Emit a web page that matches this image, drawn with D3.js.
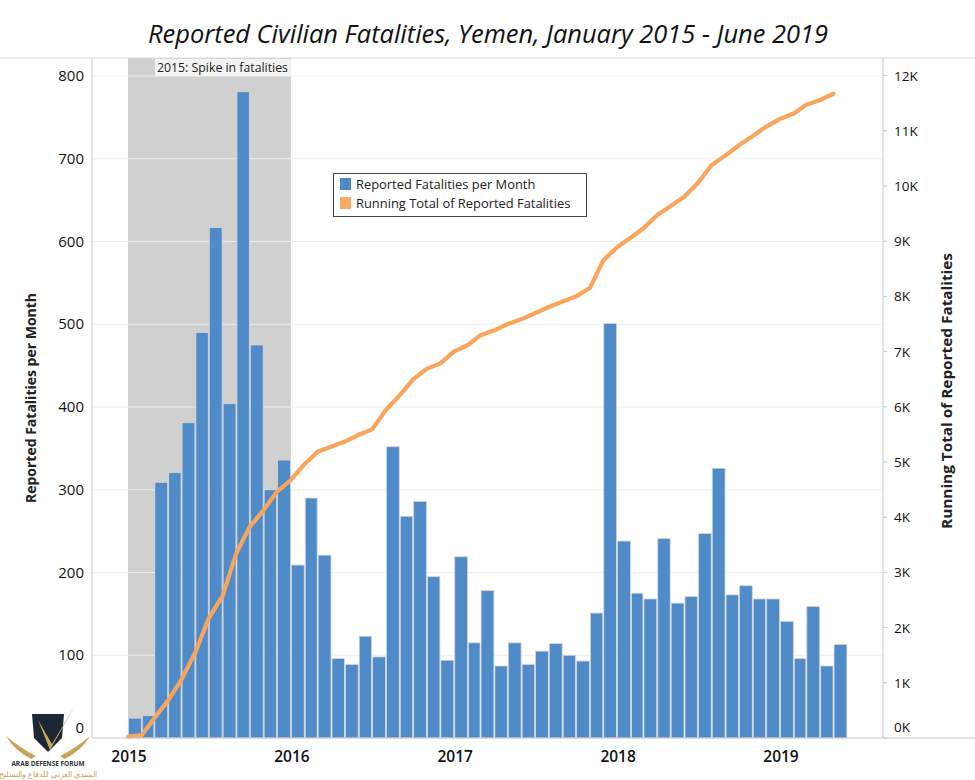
<!DOCTYPE html>
<html><head><meta charset="utf-8">
<script src="https://cdn.jsdelivr.net/npm/d3@7"></script>
<style>
body{margin:0;background:#fff;}
text{font-family:"Open Sans","Noto Sans",sans-serif;}
</style></head>
<body><svg id="c" width="975" height="780"></svg>
<script>
const months = ["2015-01","2015-02","2015-03","2015-04","2015-05","2015-06","2015-07","2015-08","2015-09","2015-10","2015-11","2015-12",
"2016-01","2016-02","2016-03","2016-04","2016-05","2016-06","2016-07","2016-08","2016-09","2016-10","2016-11","2016-12",
"2017-01","2017-02","2017-03","2017-04","2017-05","2017-06","2017-07","2017-08","2017-09","2017-10","2017-11","2017-12",
"2018-01","2018-02","2018-03","2018-04","2018-05","2018-06","2018-07","2018-08","2018-09","2018-10","2018-11","2018-12",
"2019-01","2019-02","2019-03","2019-04","2019-05"];
const fatalities = [24,27,309,321,381,490,617,404,781,475,300,336,
209,290,221,96,89,123,98,352,268,286,195,94,
219,115,178,87,115,89,105,114,100,93,151,501,
238,175,168,241,163,171,247,326,173,184,168,168,
141,96,159,87,113];
const leftTicks = [0,100,200,300,400,500,600,700,800];
const rightTicks = [0,1000,2000,3000,4000,5000,6000,7000,8000,9000,10000,11000,12000];
const rightTickLabels = ["0K","1K","2K","3K","4K","5K","6K","7K","8K","9K","10K","11K","12K"];
const yearTicks = ["2015","2016","2017","2018","2019"];
const seriesNames = ["Reported Fatalities per Month","Running Total of Reported Fatalities"];
const bandStart = "2015-01", bandEnd = "2016-01";
const annotation = "2015: Spike in fatalities";

const parse = d3.timeParse("%Y-%m");
const running = Array.from(d3.cumsum(fatalities));
const data = months.map((m,i)=>({date:parse(m), next:d3.timeMonth.offset(parse(m),1), v:fatalities[i], cum:running[i]}));

const svg = d3.select("#c");
const L=92, R=883, T=58, B=738;
const blue="#4f8bc9", orange="#f9a55c";

const x = d3.scaleTime().domain([parse("2015-01"),parse("2019-01")]).range([128,780]);
const yL = d3.scaleLinear().domain([0,800]).range([B,76]);
const yR = d3.scaleLinear().domain([0,12000]).range([B,75.6]);

// band
svg.append("rect").attr("x",x(parse(bandStart))).attr("y",T).attr("width",x(parse(bandEnd))-x(parse(bandStart))).attr("height",B-T).attr("fill","#d0d0d0");
// gridlines
svg.append("g").selectAll("line").data(leftTicks.slice(1)).join("line")
  .attr("x1",L).attr("x2",R).attr("y1",d=>yL(d)).attr("y2",d=>yL(d))
  .attr("stroke","#eeeeee").attr("stroke-width",1.2);
// annotation box
svg.append("rect").attr("x",155).attr("y",T+1).attr("width",x(parse(bandEnd))-155).attr("height",17).attr("fill","#f3f3f3");
svg.append("text").attr("x",157).attr("y",72).attr("font-size",12.3).attr("fill","#222").text(annotation);

// bars
svg.append("g").selectAll("rect").data(data).join("rect")
  .attr("x",d=>x(d.date)+0.5).attr("width",d=>x(d.next)-x(d.date)-1)
  .attr("y",d=>yL(d.v)).attr("height",d=>B-yL(d.v))
  .attr("fill",blue).attr("stroke","#d8d8d8").attr("stroke-width",0.8);

// line
svg.append("path").datum(data)
  .attr("d",d3.line().x(d=>x(d.date)).y(d=>yR(d.cum)))
  .attr("fill","none").attr("stroke",orange).attr("stroke-width",4.2).attr("stroke-linejoin","round").attr("stroke-linecap","round");

// frame lines
svg.append("line").attr("x1",0).attr("x2",975).attr("y1",T).attr("y2",T).attr("stroke","#dcdcdc");
svg.append("line").attr("x1",L).attr("x2",L).attr("y1",T).attr("y2",B).attr("stroke","#c8c8c8");
svg.append("line").attr("x1",R).attr("x2",R).attr("y1",T).attr("y2",B).attr("stroke","#c8c8c8");
svg.append("line").attr("x1",L).attr("x2",975).attr("y1",B).attr("y2",B).attr("stroke","#c8c8c8");

// left ticks
svg.append("g").selectAll("text").data(leftTicks).join("text")
  .attr("x",84).attr("y",d=>d===0?733:yL(d)+5).attr("text-anchor","end")
  .attr("font-size",15).attr("fill","#111").text(d=>d);
// right ticks
svg.append("g").selectAll("line").data(rightTicks).join("line")
  .attr("x1",R).attr("x2",R+4).attr("y1",d=>yR(d)).attr("y2",d=>yR(d)).attr("stroke","#c8c8c8");
svg.append("g").selectAll("text").data(rightTicks).join("text")
  .attr("x",894).attr("y",(d,i)=>d===0?732:yR(d)+5).attr("font-family","DejaVu Sans, sans-serif")
  .attr("font-size",13.5).attr("fill","#111").text((d,i)=>rightTickLabels[i]);
// year ticks
svg.append("g").selectAll("text").data(yearTicks).join("text")
  .attr("x",d=>x(parse(d+"-01"))+1).attr("y",762).attr("text-anchor","middle")
  .attr("font-size",15.5).attr("font-weight",600).attr("fill","#111").text(d=>d);

// axis titles
svg.append("text").attr("transform","translate(36,398) rotate(-90)").attr("text-anchor","middle")
  .attr("font-size",14).attr("font-weight","bold").attr("fill","#222").text("Reported Fatalities per Month");
svg.append("text").attr("transform","translate(952,391) rotate(-90)").attr("text-anchor","middle")
  .attr("font-size",14).attr("font-weight","bold").attr("fill","#222")
  .attr("textLength",276).attr("lengthAdjust","spacingAndGlyphs").text("Running Total of Reported Fatalities");

// title
svg.append("text").attr("x",488).attr("y",43).attr("text-anchor","middle")
  .attr("font-family","Liberation Sans Narrow, Roboto, sans-serif").attr("font-style","italic")
  .attr("font-size",25).attr("fill","#111").attr("textLength",680).attr("lengthAdjust","spacingAndGlyphs")
  .text("Reported Civilian Fatalities, Yemen, January 2015 - June 2019");

// legend
const lg = svg.append("g");
lg.append("rect").attr("x",333.5).attr("y",173.5).attr("width",253).attr("height",43).attr("fill","#fff").attr("stroke","#444");
[blue,"#fbaa66"].forEach((c,i)=>{
  lg.append("rect").attr("x",340).attr("y",178+i*19).attr("width",11).attr("height",12).attr("fill",c);
  lg.append("text").attr("x",356).attr("y",189+i*19).attr("font-size",12.9).attr("fill","#222").text(seriesNames[i]);
});

// watermark
const wm = svg.append("g");
wm.append("path").attr("d","M32,714 L64,714 L62,738 L48,752 L34,738 Z").attr("fill","#1c2733");
wm.append("path").attr("d","M38,720 L50,750 L76,704 L52,744 Z").attr("fill","#c9a45a");
wm.append("path").attr("d","M6,736 Q20,748 36,756 L31,759 Q14,750 6,736 Z M90,736 Q76,748 60,756 L65,759 Q82,750 90,736 Z").attr("fill","#c9a45a");
wm.append("text").attr("x",48).attr("y",766).attr("text-anchor","middle").attr("font-family","DejaVu Serif, serif")
  .attr("font-size",6.5).attr("font-weight","bold").attr("fill","#333").text("ARAB DEFENSE FORUM");
wm.append("text").attr("x",48).attr("y",777).attr("text-anchor","middle")
  .attr("font-size",8).attr("fill","#c9a45a").text("المنتدى العربي للدفاع والتسليح");
</script></body></html>
